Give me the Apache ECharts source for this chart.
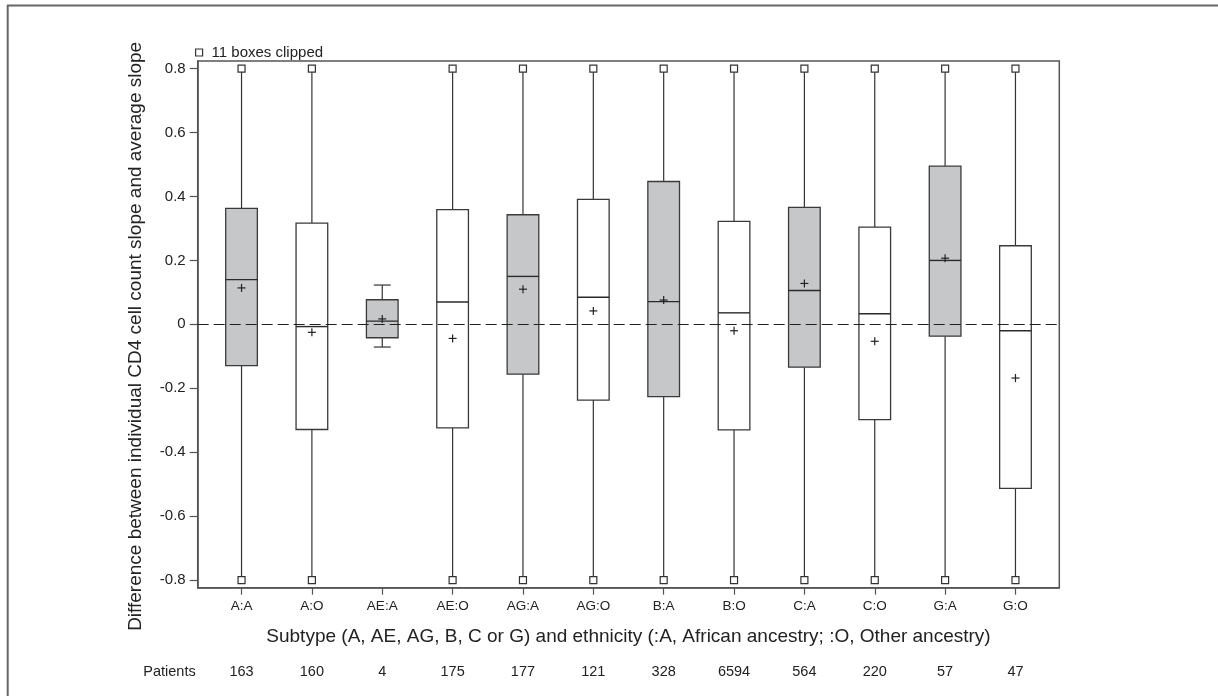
<!DOCTYPE html>
<html>
<head>
<meta charset="utf-8">
<script src="https://cdn.jsdelivr.net/npm/echarts@6/dist/echarts.min.js"></script>
<style>
html,body{margin:0;padding:0;background:#fff;}
#chart{width:1218px;height:696px;}
</style>
</head>
<body>
<div id="chart"></div>
<script>
// ---- data ----
var categories = ['A:A','A:O','AE:A','AE:O','AG:A','AG:O','B:A','B:O','C:A','C:O','G:A','G:O'];
var patients   = [163, 160, 4, 175, 177, 121, 328, 6594, 564, 220, 57, 47];
var whiskerLow  = [-0.8, -0.8, -0.071, -0.8, -0.8, -0.8, -0.8, -0.8, -0.8, -0.8, -0.8, -0.8];
var q1          = [-0.129, -0.329, -0.042, -0.324, -0.156, -0.237, -0.226, -0.330, -0.134, -0.298, -0.037, -0.513];
var median      = [0.140, -0.007, 0.010, 0.070, 0.150, 0.085, 0.071, 0.036, 0.106, 0.033, 0.200, -0.020];
var q3          = [0.363, 0.317, 0.077, 0.359, 0.343, 0.391, 0.447, 0.322, 0.366, 0.304, 0.495, 0.246];
var whiskerHigh = [0.8, 0.8, 0.123, 0.8, 0.8, 0.8, 0.8, 0.8, 0.8, 0.8, 0.8, 0.8];
var means       = [0.114, -0.025, 0.017, -0.044, 0.110, 0.042, 0.076, -0.020, 0.128, -0.053, 0.207, -0.168];
var clipped     = [1, 1, 0, 1, 1, 1, 1, 1, 1, 1, 1, 1];
var yTicks      = [-0.8, -0.6, -0.4, -0.2, 0, 0.2, 0.4, 0.6, 0.8];
var clipLimit   = 0.8;

var xTicks = categories.map(function (c, i) { return i; });
var boxData = categories.map(function (c, i) {
  var african = /:A$/.test(c) ? 1 : 0;
  return [i, whiskerLow[i], q1[i], median[i], q3[i], whiskerHigh[i], means[i], clipped[i], african];
});
var clipData = [];
categories.forEach(function (c, i) {
  if (clipped[i]) { clipData.push([i, clipLimit]); clipData.push([i, -clipLimit]); }
});

var FONT = '"Liberation Sans", Arial, Helvetica, sans-serif';
var TXT = '#222';
var AX = '#555';

function renderBox(params, api) {
  var x = api.value(0);
  var lo = api.coord([x, api.value(1)]);
  var pq1 = api.coord([x, api.value(2)]);
  var pmed = api.coord([x, api.value(3)]);
  var pq3 = api.coord([x, api.value(4)]);
  var hi = api.coord([x, api.value(5)]);
  var pm = api.coord([x, api.value(6)]);
  var isClip = api.value(7);
  var african = api.value(8);
  var halfW = api.size([0.45, 0])[0] / 2;
  var halfCap = api.size([0.24, 0])[0] / 2;
  var cx = pmed[0];
  var lineStyle = { stroke: '#333', lineWidth: 1.2 };
  var children = [
    { type: 'line', shape: { x1: cx, y1: pq3[1], x2: cx, y2: hi[1] }, style: lineStyle },
    { type: 'line', shape: { x1: cx, y1: pq1[1], x2: cx, y2: lo[1] }, style: lineStyle }
  ];
  if (!isClip) {
    children.push({ type: 'line', shape: { x1: cx - halfCap, y1: hi[1], x2: cx + halfCap, y2: hi[1] }, style: lineStyle });
    children.push({ type: 'line', shape: { x1: cx - halfCap, y1: lo[1], x2: cx + halfCap, y2: lo[1] }, style: lineStyle });
  }
  children.push({
    type: 'rect',
    shape: { x: cx - halfW, y: pq3[1], width: halfW * 2, height: pq1[1] - pq3[1] },
    style: { fill: african ? '#c6c7c9' : '#ffffff', stroke: '#3a3a3a', lineWidth: 1.3 }
  });
  children.push({ type: 'line', shape: { x1: cx - halfW, y1: pmed[1], x2: cx + halfW, y2: pmed[1] }, style: { stroke: '#2a2a2a', lineWidth: 1.4 } });
  children.push({ type: 'line', shape: { x1: cx - 4, y1: pm[1], x2: cx + 4, y2: pm[1] }, style: { stroke: '#222', lineWidth: 1.2 } });
  children.push({ type: 'line', shape: { x1: cx, y1: pm[1] - 4, x2: cx, y2: pm[1] + 4 }, style: { stroke: '#222', lineWidth: 1.2 } });
  return { type: 'group', children: children };
}

var chart = echarts.init(document.getElementById('chart'), null, { renderer: 'canvas' });
chart.setOption({
  backgroundColor: '#fff',
  animation: false,
  textStyle: { fontFamily: FONT, color: TXT },
  grid: { left: 197.7, right: 158.7, top: 61, bottom: 108.3, show: true, borderColor: AX, borderWidth: 1.5, backgroundColor: 'transparent' },
  legend: {
    data: ['11 boxes clipped'],
    left: 190, top: 40,
    itemWidth: 7, itemHeight: 7,
    icon: 'rect',
    itemStyle: { color: '#fff', borderColor: '#333', borderWidth: 1.2 },
    textStyle: { fontSize: 15, color: TXT, fontFamily: FONT, padding: [0, 0, 0, 4] }
  },
  xAxis: [{
    type: 'value', min: -0.623, max: 11.623,
    name: 'Subtype (A, AE, AG, B, C or G) and ethnicity (:A, African ancestry; :O, Other ancestry)',
    nameLocation: 'middle', nameGap: 40,
    nameTextStyle: { fontSize: 19, color: TXT, fontFamily: FONT },
    splitLine: { show: false },
    axisLine: { show: true, onZero: false, lineStyle: { color: AX, width: 1.5 } },
    axisTick: { show: true, length: 7, customValues: xTicks, lineStyle: { color: AX, width: 1.2 } },
    axisLabel: { customValues: xTicks, margin: 12, fontSize: 13.5, color: TXT, fontFamily: FONT,
      formatter: function (v) { return categories[Math.round(v)]; } }
  }, {
    type: 'value', min: -0.623, max: 11.623, position: 'bottom', offset: 77,
    name: 'Patients', nameLocation: 'start', nameGap: 2,
    nameTextStyle: { fontSize: 14.5, color: TXT, fontFamily: FONT, verticalAlign: 'top', align: 'right' },
    splitLine: { show: false },
    axisLine: { show: false, onZero: false }, axisTick: { show: false },
    axisLabel: { customValues: xTicks, margin: 0, fontSize: 14.5, color: TXT, fontFamily: FONT,
      formatter: function (v) { return String(patients[Math.round(v)]); } }
  }],
  yAxis: {
    type: 'value', min: -0.824, max: 0.824,
    name: 'Difference between individual CD4 cell count slope and average slope',
    nameLocation: 'middle', nameGap: 52,
    nameTextStyle: { fontSize: 19, color: TXT, fontFamily: FONT, padding: [0, 24, 0, 0] },
    splitLine: { show: false },
    axisLine: { show: true, onZero: false, lineStyle: { color: AX, width: 1.5 } },
    axisTick: { show: true, length: 8, customValues: yTicks, lineStyle: { color: AX, width: 1.2 } },
    axisLabel: { customValues: yTicks, margin: 12, fontSize: 15, color: TXT, fontFamily: FONT,
      formatter: function (v) { return Math.abs(v) < 1e-9 ? '0' : v.toFixed(1); } }
  },
  series: [{
    type: 'line', name: 'zero', data: [], z: 1, silent: true,
    markLine: {
      silent: true, symbol: 'none', label: { show: false },
      lineStyle: { color: '#222', width: 1.2, type: [11, 5] },
      data: [{ yAxis: 0 }]
    }
  }, {
    type: 'custom', name: 'boxes', z: 3, clip: false,
    renderItem: renderBox,
    encode: { x: 0, y: [1, 2, 3, 4, 5] },
    data: boxData
  }, {
    type: 'scatter', name: '11 boxes clipped', z: 4,
    symbol: 'rect', symbolSize: 7,
    itemStyle: { color: '#fff', borderColor: '#333', borderWidth: 1.2, opacity: 1 },
    data: clipData
  }],
  graphic: [
    { type: 'line', shape: { x1: 7, y1: 5.5, x2: 1218, y2: 5.5 }, style: { stroke: '#666', lineWidth: 2 } },
    { type: 'line', shape: { x1: 7.7, y1: 5, x2: 7.7, y2: 696 }, style: { stroke: '#666', lineWidth: 2 } }
  ]
});
</script>
</body>
</html>
